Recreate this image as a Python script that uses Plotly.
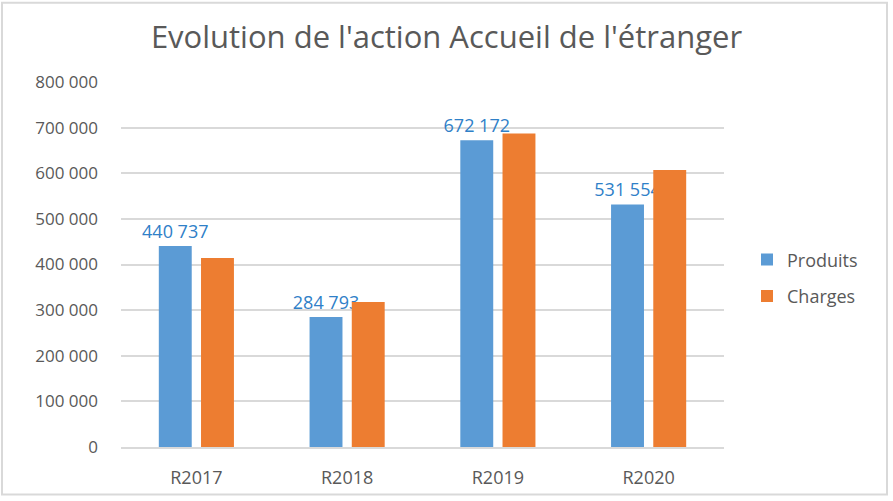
import plotly.graph_objects as go

categories = ["R2017", "R2018", "R2019", "R2020"]
produits = [440737, 284793, 672172, 531554]
charges = [414000, 318000, 687000, 607000]
y_ticks = [0, 100000, 200000, 300000, 400000, 500000, 600000, 700000, 800000]
y_tick_labels = ["0", "100 000", "200 000", "300 000", "400 000", "500 000", "600 000", "700 000", "800 000"]
produits_labels = ["440 737", "284 793", "672 172", "531 554"]

FONT = "Open Sans"
GRAY = "#595959"

fig = go.Figure()
fig.add_trace(go.Bar(
    x=categories, y=produits, name="Produits", legendgroup="p",
    marker=dict(color="#5B9BD5", line=dict(width=0)),
    text=produits_labels, textposition="outside", constraintext="none",
    textfont=dict(family=FONT, size=18, color="#2F80C8"),
    cliponaxis=False,
))
fig.add_trace(go.Bar(
    x=categories, y=charges, name="Charges", legendgroup="c",
    marker=dict(color="#ED7D31", line=dict(width=0)),
))

W, H = 893, 501
L, R, T, B = 121, 169, 82, 50
pw, ph = W - L - R, H - T - B

def px_x(p):
    return (p - L) / pw

def px_y(p):
    return (H - B - p) / ph

fig.update_layout(
    width=W, height=H,
    margin=dict(l=L, r=R, t=T, b=B),
    paper_bgcolor="white", plot_bgcolor="white",
    barmode="group", bargap=0.44, bargroupgap=0.22,
    title=dict(text="Evolution de l'action Accueil de l'étranger",
               x=0.5, xanchor="center", y=1 - 37 / H, yanchor="middle",
               font=dict(family=FONT, size=31, color=GRAY)),
    font=dict(family=FONT, color=GRAY),
    legend=dict(x=px_x(747), y=px_y(280), xanchor="left", yanchor="middle",
                font=dict(family=FONT, size=18, color=GRAY),
                itemwidth=30, tracegroupgap=10, traceorder="grouped",
                bgcolor="rgba(0,0,0,0)"),
    showlegend=True,
    xaxis=dict(showgrid=False, showline=True, linecolor="#D9D9D9", linewidth=1.5,
               ticks="", ticklabelstandoff=14,
               tickfont=dict(family=FONT, size=18, color=GRAY)),
    yaxis=dict(range=[0, 800000], tickvals=y_ticks, ticktext=y_tick_labels,
               showgrid=True, gridcolor="#D9D9D9", gridwidth=1.5,
               zeroline=False, showline=False, ticks="",
               ticklabelstandoff=22,
               tickfont=dict(family=FONT, size=17, color=GRAY)),
    shapes=[dict(type="rect", xref="paper", yref="paper",
                 x0=px_x(2), x1=px_x(887), y0=px_y(499), y1=px_y(2),
                 line=dict(color="#D9D9D9", width=2), layer="below")],
)

fig.write_html("out.html", config={"displayModeBar": False},
               post_script="document.body.style.margin='0';document.body.style.padding='0';")
